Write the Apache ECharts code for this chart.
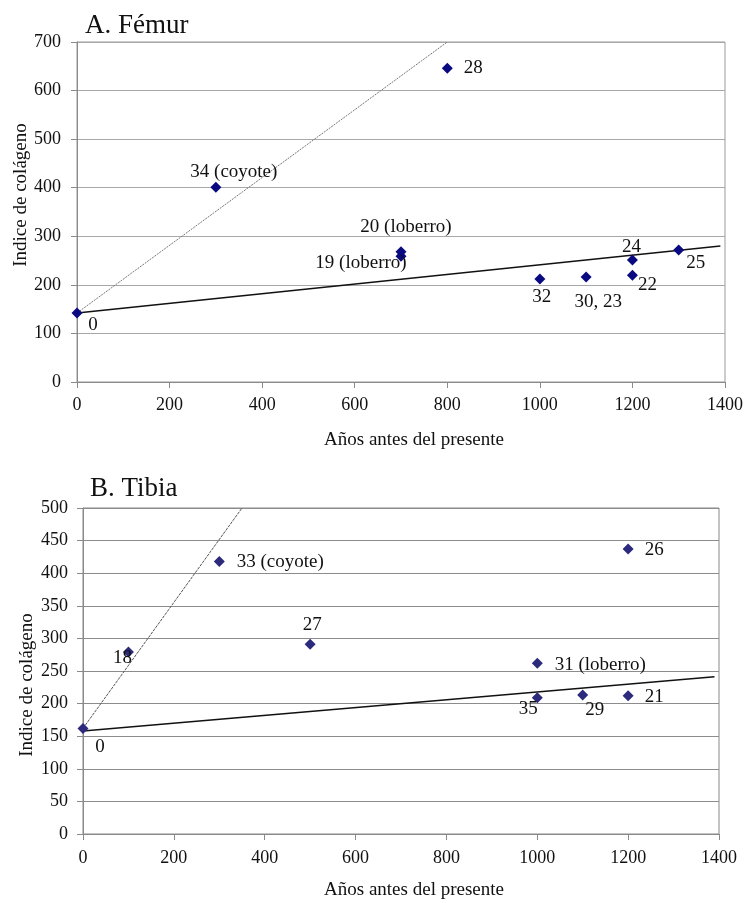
<!DOCTYPE html>
<html>
<head>
<meta charset="utf-8">
<script src="https://cdn.jsdelivr.net/npm/echarts@6/dist/echarts.min.js"></script>
<style>html,body{margin:0;padding:0;background:#fff}#c{width:747px;height:903px}</style>
</head>
<body>
<div id="c"></div>
<script>
// ---- Data ----
const xTicks = [0, 200, 400, 600, 800, 1000, 1200, 1400];

// A. Fémur
const femurLabels = ['0', '34 (coyote)', '28', '20 (loberro)', '19 (loberro)', '32', '30, 23', '24', '22', '25'];
const femurYears  = [0, 300, 800, 700, 700, 1000, 1100, 1200, 1200, 1300];
const femurIndex  = [142, 401, 646, 268, 259, 212, 216, 251, 220, 272];
const femurTrendSolid  = [[0, 142], [1390, 280]];
const femurTrendDotted = [[0, 142], [800, 700]];

// B. Tibia
const tibiaLabels = ['0', '18', '33 (coyote)', '27', '26', '31 (loberro)', '35', '29', '21'];
const tibiaYears  = [0, 100, 300, 500, 1200, 1000, 1000, 1100, 1200];
const tibiaIndex  = [162, 279, 418, 291, 437, 262, 209, 213, 212];
const tibiaTrendSolid  = [[0, 158], [1390, 241]];
const tibiaTrendDotted = [[0, 162], [350, 500]];

// ---- label placement (styling only) ----
const femurLabelOffset = {
  '0': [16, 12], '34 (coyote)': [18, -15], '28': [26, 0], '20 (loberro)': [5, -25],
  '19 (loberro)': [-40, 7], '32': [2, 18], '30, 23': [12, 25], '24': [-1, -13],
  '22': [15, 10], '25': [17, 13]
};
const tibiaLabelOffset = {
  '0': [17, 19], '18': [-6, 6], '33 (coyote)': [61, 1], '27': [2, -19], '26': [26, 1],
  '31 (loberro)': [63, 2], '35': [-9, 11], '29': [12, 15], '21': [26, 1]
};

const FONT = "'Liberation Serif', 'Times New Roman', serif";
const TXT = '#111';

function pts(labels, xs, ys, offsets) {
  return labels.map((l, i) => ({
    name: l,
    value: [xs[i], ys[i]],
    label: { offset: offsets[l] }
  }));
}

function xAxis(gi, margin) {
  return {
    type: 'value', gridIndex: gi, min: 0, max: 1400, interval: 200,
    axisLine: { show: true, lineStyle: { color: '#8a8a8a', width: 1 } },
    axisTick: { show: true, length: 6, lineStyle: { color: '#8a8a8a' } },
    axisLabel: { fontFamily: FONT, fontSize: 18, color: TXT, margin: margin,
      formatter: v => xTicks.includes(v) ? String(v) : '' },
    splitLine: { show: false }
  };
}
function yAxis(gi, max, interval, margin, gridColor) {
  return {
    type: 'value', gridIndex: gi, min: 0, max: max, interval: interval,
    axisLine: { show: true, lineStyle: { color: '#8a8a8a', width: 1 } },
    axisTick: { show: true, length: 6, lineStyle: { color: '#8a8a8a' } },
    axisLabel: { fontFamily: FONT, fontSize: 18, color: TXT, margin: margin },
    splitLine: { show: true, lineStyle: { color: gridColor, width: 1 } }
  };
}

const chart = echarts.init(document.getElementById('c'), null, { renderer: 'canvas' });
chart.setOption({
  animation: false,
  backgroundColor: '#fff',
  title: [
    { text: 'A. Fémur', left: 80, top: 7, textStyle: { fontFamily: FONT, fontSize: 27, fontWeight: 'normal', color: TXT } },
    { text: 'B. Tibia', left: 85, top: 470, textStyle: { fontFamily: FONT, fontSize: 27, fontWeight: 'normal', color: TXT } }
  ],
  grid: [
    { left: 77, top: 42, width: 648, height: 340, show: true, borderColor: '#999', borderWidth: 1, backgroundColor: 'transparent' },
    { left: 83, top: 508, width: 636, height: 326, show: true, borderColor: '#888', borderWidth: 1, backgroundColor: 'transparent' }
  ],
  xAxis: [xAxis(0, 14), xAxis(1, 15)],
  yAxis: [yAxis(0, 700, 100, 16, '#a8a8a8'), yAxis(1, 500, 50, 15, '#8c8c8c')],
  graphic: [
    { type: 'text', x: 414, y: 440, style: { text: 'Años antes del presente', font: "19px " + FONT, fill: TXT, align: 'center', verticalAlign: 'middle', textAlign: 'center', textVerticalAlign: 'middle' } },
    { type: 'text', x: 414, y: 890, style: { text: 'Años antes del presente', font: "19px " + FONT, fill: TXT, align: 'center', verticalAlign: 'middle', textAlign: 'center', textVerticalAlign: 'middle' } },
    { type: 'text', x: 21, y: 195, rotation: Math.PI / 2, style: { text: 'Indice de colágeno', font: "19px " + FONT, fill: TXT, align: 'center', verticalAlign: 'middle', textAlign: 'center', textVerticalAlign: 'middle' } },
    { type: 'text', x: 27, y: 685, rotation: Math.PI / 2, style: { text: 'Indice de colágeno', font: "19px " + FONT, fill: TXT, align: 'center', verticalAlign: 'middle', textAlign: 'center', textVerticalAlign: 'middle' } }
  ],
  series: [
    { type: 'line', xAxisIndex: 0, yAxisIndex: 0, data: femurTrendDotted, symbol: 'none',
      lineStyle: { color: '#777', width: 1, type: [2, 1] }, z: 2 },
    { type: 'line', xAxisIndex: 0, yAxisIndex: 0, data: femurTrendSolid, symbol: 'none',
      lineStyle: { color: '#111', width: 1.5 }, z: 2 },
    { type: 'scatter', xAxisIndex: 0, yAxisIndex: 0, data: pts(femurLabels, femurYears, femurIndex, femurLabelOffset),
      symbol: 'diamond', symbolSize: 11, itemStyle: { color: '#0a0a80', opacity: 1 }, z: 3,
      label: { show: true, position: 'inside', formatter: p => p.name, fontFamily: FONT, fontSize: 19, color: TXT, align: 'center', verticalAlign: 'middle' } },
    { type: 'line', xAxisIndex: 1, yAxisIndex: 1, data: tibiaTrendDotted, symbol: 'none',
      lineStyle: { color: '#555', width: 1, type: [3, 1] }, z: 2 },
    { type: 'line', xAxisIndex: 1, yAxisIndex: 1, data: tibiaTrendSolid, symbol: 'none',
      lineStyle: { color: '#111', width: 1.5 }, z: 2 },
    { type: 'scatter', xAxisIndex: 1, yAxisIndex: 1, data: pts(tibiaLabels, tibiaYears, tibiaIndex, tibiaLabelOffset),
      symbol: 'diamond', symbolSize: 11, itemStyle: { color: '#2c2a7c', opacity: 1 }, z: 3,
      label: { show: true, position: 'inside', formatter: p => p.name, fontFamily: FONT, fontSize: 19, color: TXT, align: 'center', verticalAlign: 'middle' } }
  ]
});
</script>
</body>
</html>
